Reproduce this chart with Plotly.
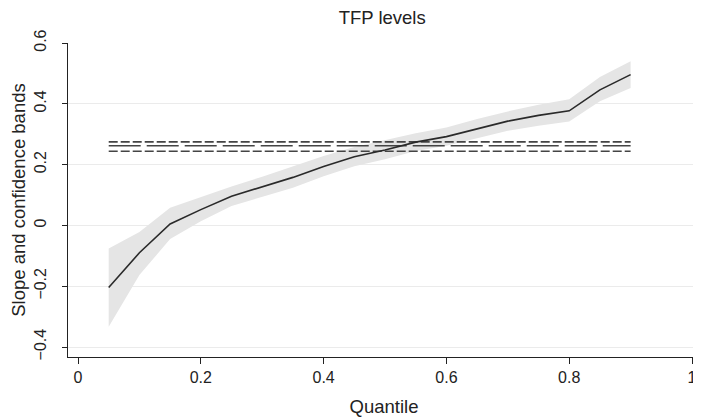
import plotly.graph_objects as go

quantiles = [0.05, 0.10, 0.15, 0.20, 0.25, 0.30, 0.35, 0.40, 0.45, 0.50,
             0.55, 0.60, 0.65, 0.70, 0.75, 0.80, 0.85, 0.90]
slope = [-0.204, -0.090, 0.005, 0.052, 0.096, 0.126, 0.158, 0.194, 0.226, 0.248,
         0.274, 0.292, 0.318, 0.343, 0.362, 0.377, 0.446, 0.496]
band_lo = [-0.333, -0.163, -0.045, 0.014, 0.064, 0.094, 0.124, 0.162, 0.195, 0.218,
           0.245, 0.262, 0.287, 0.311, 0.328, 0.342, 0.408, 0.452]
band_hi = [-0.076, -0.022, 0.058, 0.094, 0.128, 0.160, 0.194, 0.228, 0.258, 0.280,
           0.303, 0.322, 0.350, 0.375, 0.397, 0.415, 0.488, 0.540]
ols_est = 0.262
ols_lo = 0.244
ols_hi = 0.275

x_ticks = [0, 0.2, 0.4, 0.6, 0.8, 1]
x_tick_labels = ["0", "0.2", "0.4", "0.6", "0.8", "1"]
y_ticks = [-0.4, -0.2, 0, 0.2, 0.4, 0.6]
y_tick_labels = ["\u22120.4", "\u22120.2", "0", "0.2", "0.4", "0.6"]

FONT = "Liberation Sans, Arial, Helvetica, sans-serif"
TXT = "#222222"

fig = go.Figure()

# confidence band
fig.add_trace(go.Scatter(x=quantiles, y=band_hi, mode="lines",
                         line=dict(width=0, color="#e5e5e5"),
                         hoverinfo="skip", showlegend=False))
fig.add_trace(go.Scatter(x=quantiles, y=band_lo, mode="lines",
                         line=dict(width=0, color="#e5e5e5"),
                         fill="tonexty", fillcolor="#e5e5e5",
                         hoverinfo="skip", showlegend=False))

# OLS estimate and bounds (dashed)
xs = [quantiles[0], quantiles[-1]]
fig.add_trace(go.Scatter(x=xs, y=[ols_hi, ols_hi], mode="lines",
                         line=dict(color="#444444", width=1.7, dash="9px,3px"),
                         showlegend=False))
fig.add_trace(go.Scatter(x=xs, y=[ols_est, ols_est], mode="lines",
                         line=dict(color="#444444", width=1.7, dash="32px,6px"),
                         showlegend=False))
fig.add_trace(go.Scatter(x=xs, y=[ols_lo, ols_lo], mode="lines",
                         line=dict(color="#444444", width=1.7, dash="9px,3px"),
                         showlegend=False))

# quantile slope
fig.add_trace(go.Scatter(x=quantiles, y=slope, mode="lines",
                         line=dict(color="#2a2a2a", width=1.6),
                         showlegend=False))

# the page body adds an 8px offset, so the figure is sized to fit the window
fig.update_layout(
    width=693, height=412,
    margin=dict(l=60, r=1, t=35, b=63),
    paper_bgcolor="white", plot_bgcolor="white",
    font=dict(family=FONT, size=16, color=TXT),
    title=dict(text="TFP levels", x=0.540, xanchor="center", y=0.978, yanchor="middle",
               font=dict(family=FONT, size=18.5, color=TXT)),
    xaxis=dict(range=[-0.0163, 1.013], tickvals=x_ticks, ticktext=x_tick_labels,
               showgrid=False, zeroline=False, showline=True, linecolor="#222222",
               linewidth=1, ticks="outside", ticklen=6, tickcolor="#222222",
               ticklabelstandoff=0, automargin=False,
               tickfont=dict(family=FONT, size=16, color=TXT),
               title=dict(text="Quantile", standoff=14,
                          font=dict(family=FONT, size=18.5, color=TXT))),
    yaxis=dict(range=[-0.4328, 0.6], tickvals=y_ticks, ticktext=y_tick_labels,
               tickangle=-90, showgrid=True, gridcolor="#ebebeb", gridwidth=1,
               zeroline=False, showline=True, linecolor="#222222", linewidth=1,
               ticks="outside", ticklen=5, tickcolor="#222222",
               ticklabelstandoff=10, automargin=False,
               tickfont=dict(family=FONT, size=16, color=TXT),
               title=dict(text="Slope and confidence bands", standoff=4,
                          font=dict(family=FONT, size=18.5, color=TXT))),
)

fig.write_html("out.html")
